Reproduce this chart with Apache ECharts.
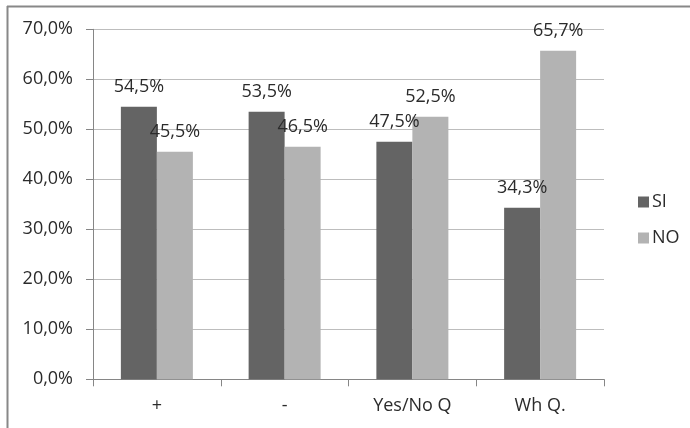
<!DOCTYPE html>
<html>
<head>
<meta charset="utf-8">
<script src="https://cdn.jsdelivr.net/npm/echarts@6/dist/echarts.min.js"></script>
<style>
html,body{margin:0;padding:0;background:#fff;}
#c{width:690px;height:428px;}
</style>
</head>
<body>
<div id="c"></div>
<script>
const categories = ['+', '-', 'Yes/No Q', 'Wh Q.'];
const seriesNames = ['SI', 'NO'];
const siValues = [54.5, 53.5, 47.5, 34.3];
const noValues = [45.5, 46.5, 52.5, 65.7];
const yTicks = [0, 10, 20, 30, 40, 50, 60, 70];

const FONT = '"Open Sans", "Liberation Sans", sans-serif';
const TXT = '#2b2b2b';
const fmt = v => v.toFixed(1).replace('.', ',') + '%';

const chart = echarts.init(document.getElementById('c'));
chart.setOption({
  animation: false,
  backgroundColor: '#ffffff',
  textStyle: { fontFamily: FONT },
  graphic: [
    { type: 'line', shape: { x1: 7, y1: 6.5, x2: 690, y2: 6.5 }, style: { stroke: '#888888', lineWidth: 2 } },
    { type: 'line', shape: { x1: 7.5, y1: 6, x2: 7.5, y2: 428 }, style: { stroke: '#888888', lineWidth: 2 } }
  ],
  grid: { left: 93, right: 86, top: 29.3, bottom: 48.7 },
  legend: {
    orient: 'vertical',
    left: 633,
    top: 188,
    itemWidth: 11,
    itemHeight: 11,
    itemGap: 18,
    icon: 'rect',
    data: seriesNames,
    textStyle: { fontFamily: FONT, fontSize: 18, color: TXT, padding: [0, 0, 0, -2] }
  },
  xAxis: {
    type: 'category',
    data: categories,
    axisLine: { lineStyle: { color: '#868686', width: 1 } },
    axisTick: { show: true, length: 7, lineStyle: { color: '#868686' } },
    axisLabel: { fontFamily: FONT, fontSize: 18, color: TXT, margin: 18 },
    splitLine: { show: false }
  },
  yAxis: {
    type: 'value',
    min: yTicks[0],
    max: yTicks[yTicks.length - 1],
    interval: 10,
    axisLine: { show: true, lineStyle: { color: '#868686', width: 1 } },
    axisTick: { show: true, length: 7, lineStyle: { color: '#868686' } },
    axisLabel: { fontFamily: FONT, fontSize: 18, color: TXT, margin: 20, formatter: v => fmt(v) },
    splitLine: { show: true, lineStyle: { color: '#bdbdbd', width: 1 } }
  },
  series: [
    {
      name: seriesNames[0], type: 'bar', data: siValues, barWidth: 36, barGap: '0%',
      itemStyle: { color: '#646464' },
      label: { show: true, position: 'top', distance: 11, fontFamily: FONT, fontSize: 18, color: TXT, formatter: p => fmt(p.value) }
    },
    {
      name: seriesNames[1], type: 'bar', data: noValues, barWidth: 36, barGap: '0%',
      itemStyle: { color: '#b3b3b3' },
      label: { show: true, position: 'top', distance: 11, fontFamily: FONT, fontSize: 18, color: TXT, formatter: p => fmt(p.value) }
    }
  ]
});
</script>
</body>
</html>
